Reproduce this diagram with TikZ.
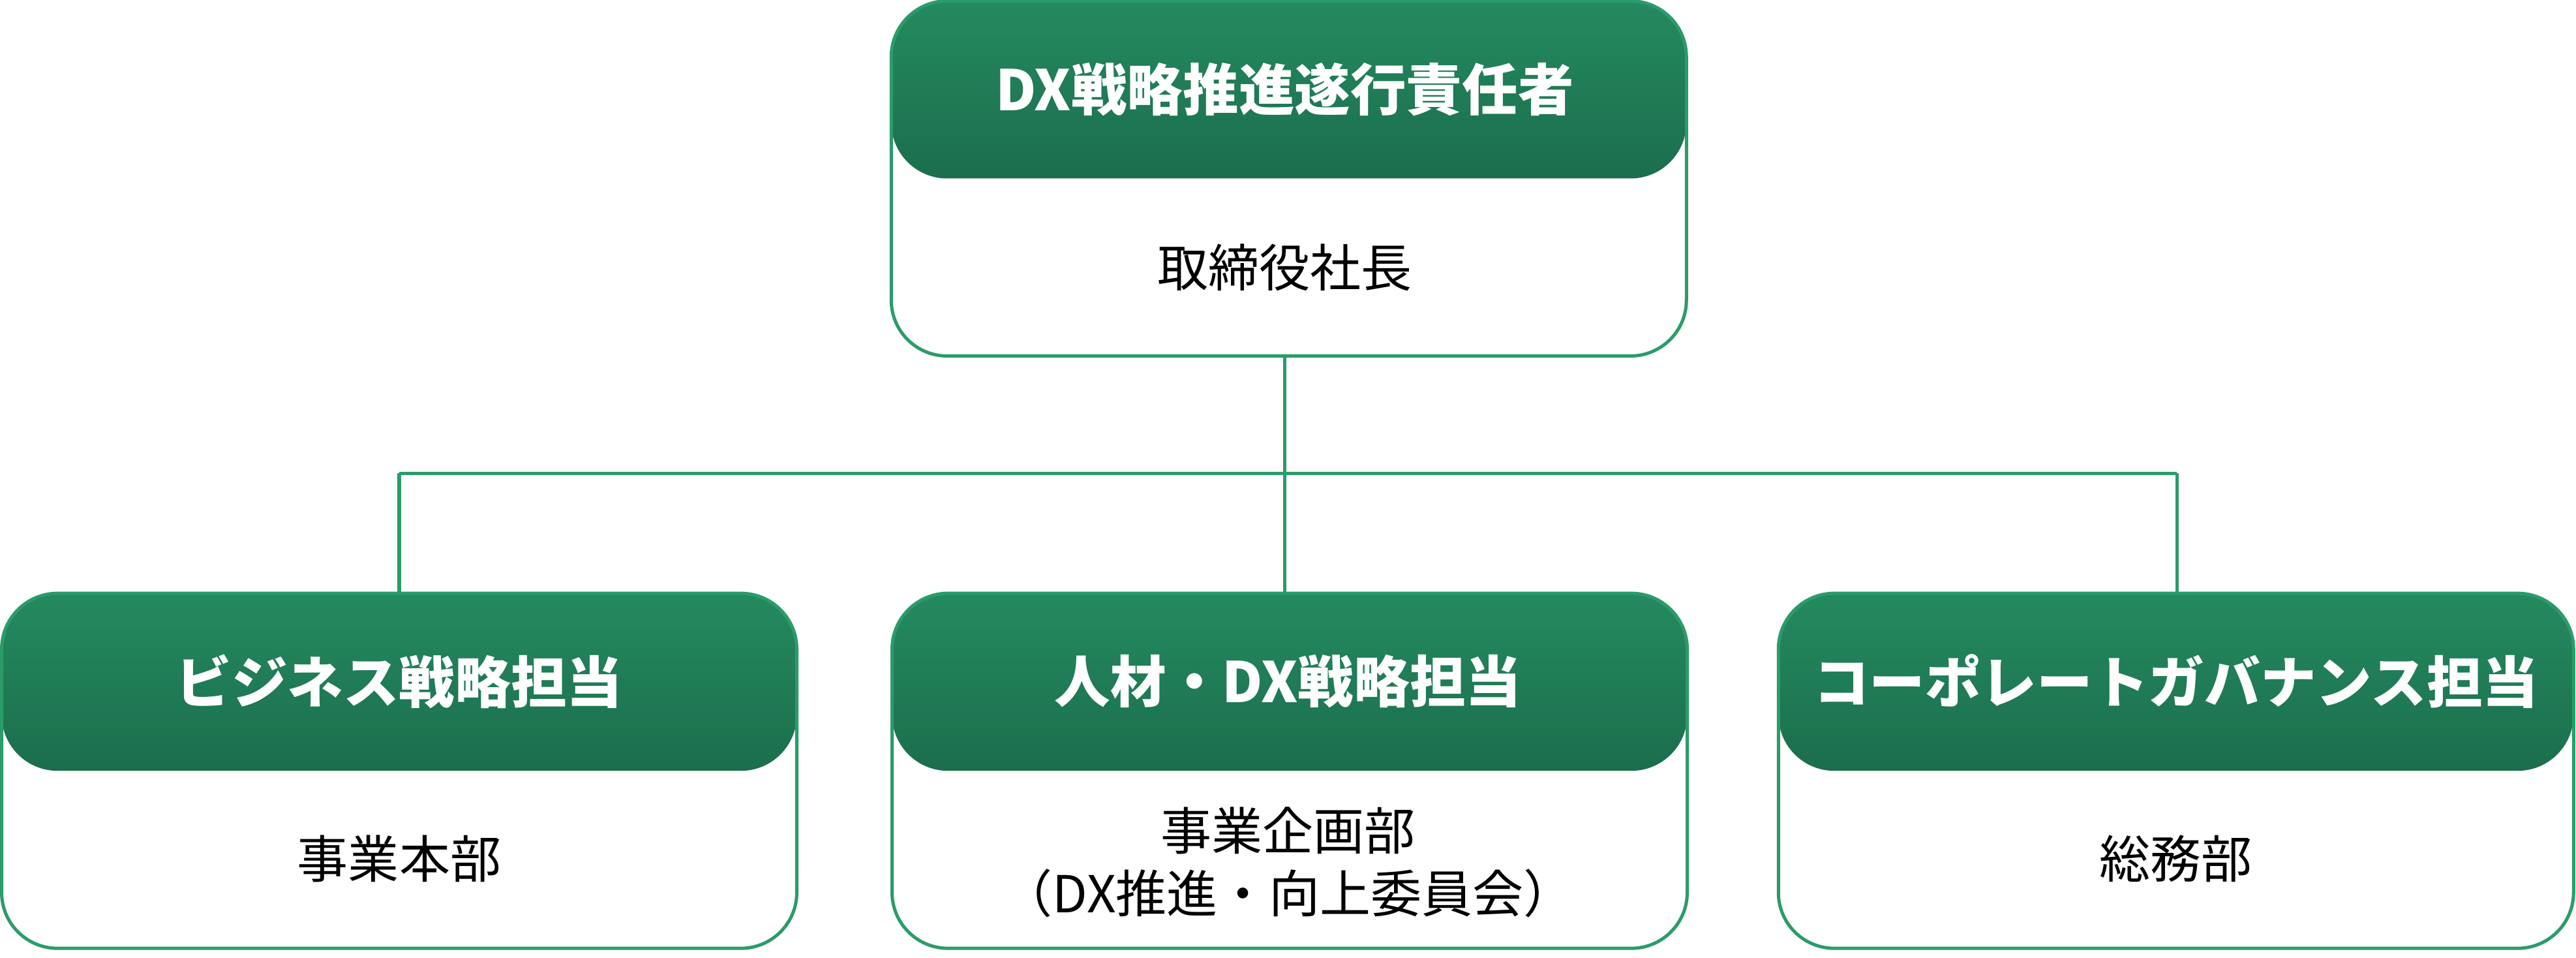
\documentclass[tikz,border=0pt]{standalone}
\usepackage{fontspec}
\setmainfont{Noto Sans CJK JP}
\definecolor{lt}{HTML}{3ACB8F}
\definecolor{dk}{HTML}{1B6E4C}
\definecolor{ln}{HTML}{2A9C6A}
\pgfdeclareverticalshading{hdr}{100bp}{color(0bp)=(dk); color(50bp)=(dk); color(75bp)=(dk!70!lt); color(100bp)=(lt)}
\begin{document}
\begin{tikzpicture}[x=0.5pt,y=0.5pt,
  box/.style={draw=ln,line width=1pt,rounded corners=17pt,minimum width=242pt,minimum height=108pt,inner sep=0pt,
    path picture={\shade[shading=hdr] (path picture bounding box.north west) rectangle (path picture bounding box.east);}},
  ttl/.style={text=white,font=\bfseries\fontsize{17}{20}\selectfont},
  sub/.style={text=black,font=\fontsize{15.5}{19}\selectfont,align=center},
  conn/.style={draw=ln,line width=1pt}]
\useasboundingbox (0,0) rectangle (1568,582.6);
\node[box] (top) at (784.5,474) {};
\node[box] (b1) at (243,113.6) {};
\node[box] (b2) at (785,113.6) {};
\node[box] (b3) at (1324.5,113.6) {};
\node[ttl] (t0) at (782,528) {DX戦略推進遂行責任者};
\node[sub] (s0) at (782,420) {取締役社長};
\node[ttl] (t1) at (243,168) {ビジネス戦略担当};
\node[sub] (s1) at (243,60) {事業本部};
\node[ttl] (t2) at (784,168) {人材・DX戦略担当};
\node[sub] (s2) at (784,58) {事業企画部\\（DX推進・向上委員会）};
\node[ttl] (t3) at (1324.5,168) {コーポレートガバナンス担当};
\node[sub] (s3) at (1324.5,60) {総務部};
\coordinate (j) at (782,294.6);
\coordinate (jl) at (243,294.6);
\coordinate (jr) at (1325,294.6);
\draw[conn] (top.south -| j) -- (j) -- (b2.north -| j);
\draw[conn] (jl) -- (jr);
\draw[conn] (jl) -- (b1.north -| jl);
\draw[conn] (jr) -- (b3.north -| jr);
\end{tikzpicture}
\end{document}
